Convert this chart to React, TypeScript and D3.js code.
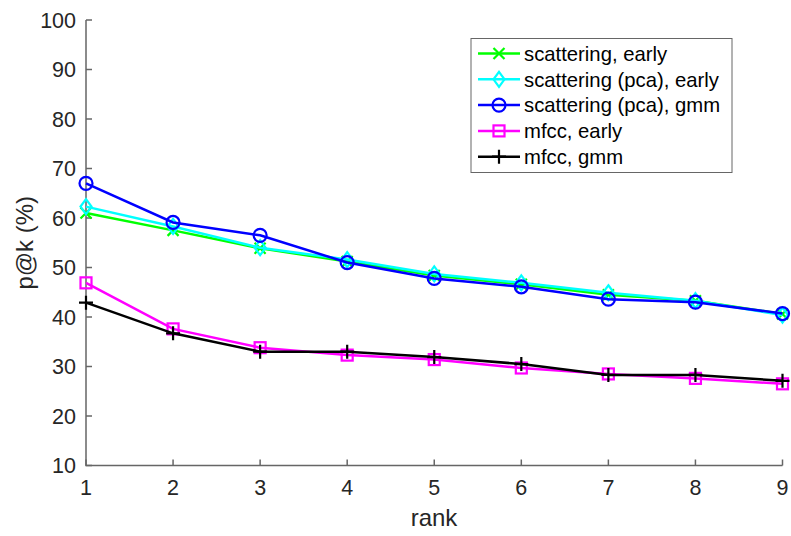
import React from "react";
import * as d3 from "d3";

const ranks = [1, 2, 3, 4, 5, 6, 7, 8, 9];
const scatEarly = [61.0, 57.5, 53.9, 51.2, 48.4, 46.6, 44.5, 43.3, 40.6];
const scatPcaEarly = [62.3, 58.3, 54.0, 51.6, 48.7, 46.9, 44.9, 43.3, 40.4];
const scatPcaGmm = [67.0, 59.1, 56.5, 51.0, 47.8, 46.1, 43.6, 43.0, 40.7];
const mfccEarly = [46.9, 37.6, 33.8, 32.3, 31.4, 29.7, 28.5, 27.6, 26.5];
const mfccGmm = [42.9, 36.7, 33.0, 33.0, 31.9, 30.5, 28.3, 28.3, 27.1];
const yTicks = [10, 20, 30, 40, 50, 60, 70, 80, 90, 100];
const seriesNames = [
  "scattering, early",
  "scattering (pca), early",
  "scattering (pca), gmm",
  "mfcc, early",
  "mfcc, gmm",
];

type Series = { name: string; values: number[]; color: string; marker: string };
const series: Series[] = [
  { name: seriesNames[0], values: scatEarly, color: "#00ff00", marker: "x" },
  { name: seriesNames[1], values: scatPcaEarly, color: "#00ffff", marker: "diamond" },
  { name: seriesNames[2], values: scatPcaGmm, color: "#0000ff", marker: "circle" },
  { name: seriesNames[3], values: mfccEarly, color: "#ff00ff", marker: "square" },
  { name: seriesNames[4], values: mfccGmm, color: "#000000", marker: "plus" },
];

const W = 791;
const H = 536;
const left = 86;
const right = 782.5;
const top = 20;
const bottom = 465.5;
const font = "'Liberation Sans', Arial, Helvetica, sans-serif";
const axisColor = "#666666";
const textColor = "#262626";

function Marker({ type, x, y, color }: { type: string; x: number; y: number; color: string }) {
  const sw = 2.2;
  if (type === "circle")
    return <circle cx={x} cy={y} r={6.5} fill="none" stroke={color} strokeWidth={sw} />;
  if (type === "square")
    return <rect x={x - 5.5} y={y - 5.5} width={11} height={11} fill="none" stroke={color} strokeWidth={sw} />;
  if (type === "diamond")
    return (
      <path
        d={`M${x},${y - 7.5}L${x + 5.5},${y}L${x},${y + 7.5}L${x - 5.5},${y}Z`}
        fill="none"
        stroke={color}
        strokeWidth={sw}
      />
    );
  if (type === "plus")
    return (
      <path d={`M${x - 7},${y}H${x + 7}M${x},${y - 7}V${y + 7}`} fill="none" stroke={color} strokeWidth={sw} />
    );
  return (
    <path
      d={`M${x - 5.5},${y - 5.5}L${x + 5.5},${y + 5.5}M${x - 5.5},${y + 5.5}L${x + 5.5},${y - 5.5}`}
      fill="none"
      stroke={color}
      strokeWidth={sw}
    />
  );
}

export default function App() {
  const x = d3.scaleLinear().domain([1, 9]).range([left, right]);
  const y = d3.scaleLinear().domain([10, 100]).range([bottom, top]);
  const line = d3
    .line<number>()
    .x((_, i) => x(ranks[i]))
    .y((d) => y(d));

  const legX = 471;
  const legY = 38.5;
  const legW = 261;
  const legH = 134;
  const rowY = (i: number) => 53.5 + i * 25.8;

  return (
    <svg
      width={W}
      height={H}
      style={{ position: "absolute", left: 0, top: 0, background: "#fff" }}
      fontFamily={font}
    >
      <rect x={0} y={0} width={W} height={H} fill="#fff" />
      {/* axes */}
      <path d={`M${left},${top}V${bottom}H${right}`} fill="none" stroke={axisColor} strokeWidth={1.5} />
      {yTicks.map((t) => (
        <g key={"y" + t}>
          <line x1={left} x2={left + 6} y1={y(t)} y2={y(t)} stroke={axisColor} strokeWidth={1.5} />
          <text x={left - 10} y={y(t)} dy="0.36em" textAnchor="end" fontSize={21.5} fill={textColor}>
            {t}
          </text>
        </g>
      ))}
      {ranks.map((r) => (
        <g key={"x" + r}>
          <line x1={x(r)} x2={x(r)} y1={bottom} y2={bottom - 6} stroke={axisColor} strokeWidth={1.5} />
          <text x={x(r)} y={495} textAnchor="middle" fontSize={21.5} fill={textColor}>
            {r}
          </text>
        </g>
      ))}
      <text x={434} y={526} textAnchor="middle" fontSize={24} fill={textColor}>
        rank
      </text>
      <text
        transform={`translate(33,${(top + bottom) / 2}) rotate(-90)`}
        textAnchor="middle"
        fontSize={24}
        fill={textColor}
      >
        p@k (%)
      </text>
      {/* series */}
      {series.map((s) => (
        <g key={s.name}>
          <path d={line(s.values) || ""} fill="none" stroke={s.color} strokeWidth={2.5} />
          {s.values.map((v, i) => (
            <Marker key={i} type={s.marker} x={x(ranks[i])} y={y(v)} color={s.color} />
          ))}
        </g>
      ))}
      {/* legend */}
      <rect x={legX} y={legY} width={legW} height={legH} fill="#fff" stroke={axisColor} strokeWidth={1} />
      {series.map((s, i) => (
        <g key={"leg" + s.name}>
          <line x1={478} x2={520} y1={rowY(i)} y2={rowY(i)} stroke={s.color} strokeWidth={2.5} />
          <Marker type={s.marker} x={499} y={rowY(i)} color={s.color} />
          <text x={524} y={rowY(i)} dy="0.36em" fontSize={20.3} fill="#000">
            {s.name}
          </text>
        </g>
      ))}
    </svg>
  );
}
